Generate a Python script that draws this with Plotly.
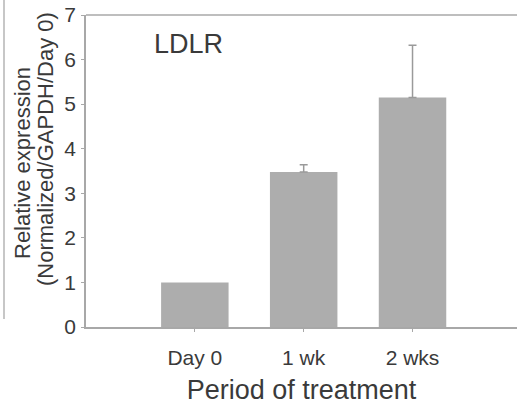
import plotly.graph_objects as go

categories = ["Day 0", "1 wk", "2 wks"]
values = [1.0, 3.48, 5.15]
errors = [0.0, 0.16, 1.17]
y_ticks = [0, 1, 2, 3, 4, 5, 6, 7]

TXT = "#3a3a3a"
LINE = "#a8a8a8"
BAR = "#adadad"
FONT = "Liberation Sans, Arial, sans-serif"

xpos = list(range(len(categories)))
has_err = [i for i, e in enumerate(errors) if e > 0]

fig = go.Figure()
fig.add_trace(go.Bar(
    x=xpos, y=values, width=0.62,
    marker=dict(color=BAR, line=dict(width=0)),
))
fig.add_trace(go.Scatter(
    x=[xpos[i] for i in has_err], y=[values[i] for i in has_err],
    mode="markers", marker=dict(size=1, opacity=0),
    error_y=dict(type="data", array=[errors[i] for i in has_err], symmetric=False,
                 arrayminus=[0] * len(has_err), visible=True,
                 color="#9a9a9a", thickness=1.5, width=4),
    hoverinfo="skip",
))

W, H = 431, 312
X0, Y0 = 86, 327

def px(x):
    return (x - X0) / W

def py(y):
    return (Y0 - y) / H

fig.update_layout(
    width=517, height=413,
    margin=dict(l=86, r=0, t=15, b=86),
    paper_bgcolor="white", plot_bgcolor="white",
    showlegend=False,
    font=dict(family=FONT, color=TXT),
    xaxis=dict(
        range=[-1.0, 2.96], tickmode="array", tickvals=xpos, ticktext=categories,
        showline=True, linecolor=LINE, linewidth=1.5, mirror=False,
        ticks="outside", ticklen=3, tickcolor=LINE, tickfont=dict(size=21, color=TXT),
        ticklabelstandoff=8,
        showgrid=False, zeroline=False,
        title=dict(text="Period of treatment", font=dict(size=27, color=TXT), standoff=12),
    ),
    yaxis=dict(
        range=[0, 7], tickmode="array", tickvals=y_ticks,
        showline=True, linecolor=LINE, linewidth=1.5,
        ticks="outside", ticklen=3, tickcolor=LINE, tickfont=dict(size=21, color=TXT),
        ticklabelstandoff=1,
        showgrid=False, zeroline=False,
    ),
    shapes=[
        dict(type="line", xref="paper", yref="paper", x0=0, x1=1, y0=1, y1=1,
             line=dict(color=LINE, width=1.5)),
        dict(type="line", xref="paper", yref="paper", x0=px(4), x1=px(4),
             y0=py(319), y1=py(0), line=dict(color="#b5b5b5", width=1.5)),
    ],
    annotations=[
        dict(text="LDLR", xref="paper", yref="paper", x=px(188), y=py(44),
             xanchor="center", yanchor="middle", showarrow=False,
             font=dict(size=27, color=TXT)),
        dict(text="Relative expression", textangle=-90, xref="paper", yref="paper",
             x=px(22), y=py(163), xanchor="center", yanchor="middle",
             showarrow=False, font=dict(size=22, color=TXT)),
        dict(text="(Normalized/GAPDH/Day 0)", textangle=-90, xref="paper", yref="paper",
             x=px(45), y=py(149), xanchor="center", yanchor="middle",
             showarrow=False, font=dict(size=22, color=TXT)),
    ],
)

fig.write_html("out.html")
